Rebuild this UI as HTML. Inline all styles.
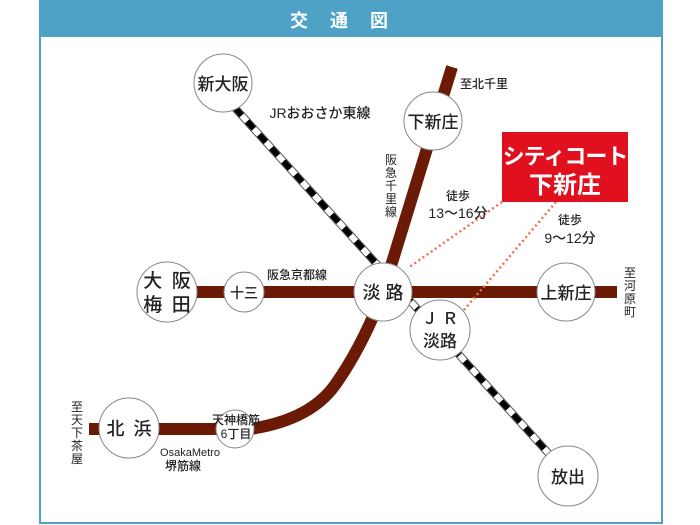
<!DOCTYPE html>
<html><head><meta charset="utf-8"><style>
html,body{margin:0;padding:0;background:#fff;width:700px;height:525px;overflow:hidden}
svg text{font-family:"Liberation Sans","Noto Sans CJK JP",sans-serif}
</style></head><body>
<svg width="700" height="525" viewBox="0 0 700 525" xmlns="http://www.w3.org/2000/svg">
<rect x="40" y="1" width="622" height="522" fill="#fff" stroke="#4da2c6" stroke-width="2"/>
<rect x="39" y="0" width="624" height="37" fill="#4da2c6"/>
<text x="350" y="27" fill="#fff" font-size="18" font-weight="bold" text-anchor="middle" letter-spacing="22">交通図</text>

<g stroke="#6b1a05" fill="none" stroke-width="12">
<line x1="197" y1="292" x2="617" y2="292"/>
<line x1="452" y1="67" x2="383" y2="292"/>
<path d="M89 429 L250 429 Q310 420 335 385 Q360 350 380 300"/>
</g>
<g>
<line x1="235" y1="108" x2="550" y2="455" stroke="#555" stroke-width="8"/>
<line x1="235" y1="108" x2="550" y2="455" stroke="#fff" stroke-width="6"/>
<line x1="235" y1="108" x2="550" y2="455" stroke="#000" stroke-width="6" stroke-dasharray="10 8"/>
</g>
<g stroke="#f07050" stroke-width="2.5" stroke-dasharray="2 3" fill="none">
<line x1="502" y1="202" x2="408" y2="268"/>
<line x1="556" y1="202" x2="464" y2="310"/>
</g>

<g fill="#fff" stroke="#888" stroke-width="1">
<circle cx="223" cy="83" r="29"/>
<circle cx="433" cy="121" r="29"/>
<circle cx="383" cy="292" r="29"/>
<circle cx="440" cy="330" r="30"/>
<circle cx="566" cy="292" r="29"/>
<circle cx="167" cy="292" r="30"/>
<circle cx="244" cy="292" r="20"/>
<circle cx="129" cy="428" r="30"/>
<circle cx="235" cy="429" r="19"/>
<circle cx="568" cy="476" r="30"/>
</g>

<g fill="#222" text-anchor="middle" font-weight="500">
<text x="223" y="90" font-size="17">新大阪</text>
<text x="433" y="128" font-size="17">下新庄</text>
<text x="383" y="299" font-size="18" xml:space="preserve">淡 路</text>
<text x="440" y="324" font-size="16">Ｊ Ｒ</text>
<text x="440" y="347" font-size="17">淡路</text>
<text x="566" y="299" font-size="17">上新庄</text>
<text x="167" y="287" font-size="19">大&#8194;阪</text>
<text x="167" y="311" font-size="19">梅&#8194;田</text>
<text x="244" y="298" font-size="14">十三</text>
<text x="129" y="435" font-size="18">北&#8194;浜</text>
<text x="236" y="424" font-size="12">天神橋筋</text>
<text x="236" y="438" font-size="12">6丁目</text>
<text x="568" y="483" font-size="17">放出</text>
<text x="320" y="118" font-size="14">JRおおさか東線</text>
<text x="484" y="88" font-size="12">至北千里</text>
<text x="297" y="279" font-size="12">阪急京都線</text>
<text x="190" y="456" font-size="11">OsakaMetro</text>
<text x="183" y="470" font-size="12">堺筋線</text>
<text x="458" y="200" font-size="12">徒歩</text>
<text x="458" y="218" font-size="14">13〜16分</text>
<text x="570" y="224" font-size="12">徒歩</text>
<text x="570" y="243" font-size="14">9〜12分</text>
</g>
<g fill="#222" font-size="12" text-anchor="middle">
<text x="391" y="164">阪</text><text x="391" y="177">急</text><text x="391" y="190">千</text><text x="391" y="203">里</text><text x="391" y="216">線</text>
<text x="630" y="277">至</text><text x="630" y="290">河</text><text x="630" y="303">原</text><text x="630" y="316">町</text>
<text x="77" y="411">至</text><text x="77" y="424">天</text><text x="77" y="437">下</text><text x="77" y="450">茶</text><text x="77" y="463">屋</text>
</g>

<rect x="502" y="132" width="126" height="70" fill="#e0101e"/>
<text x="565" y="164" fill="#fff" font-size="22" font-weight="bold" text-anchor="middle" letter-spacing="-1">シティコート</text>
<text x="565" y="193" fill="#fff" font-size="24" font-weight="bold" text-anchor="middle">下新庄</text>
</svg>
</body></html>
